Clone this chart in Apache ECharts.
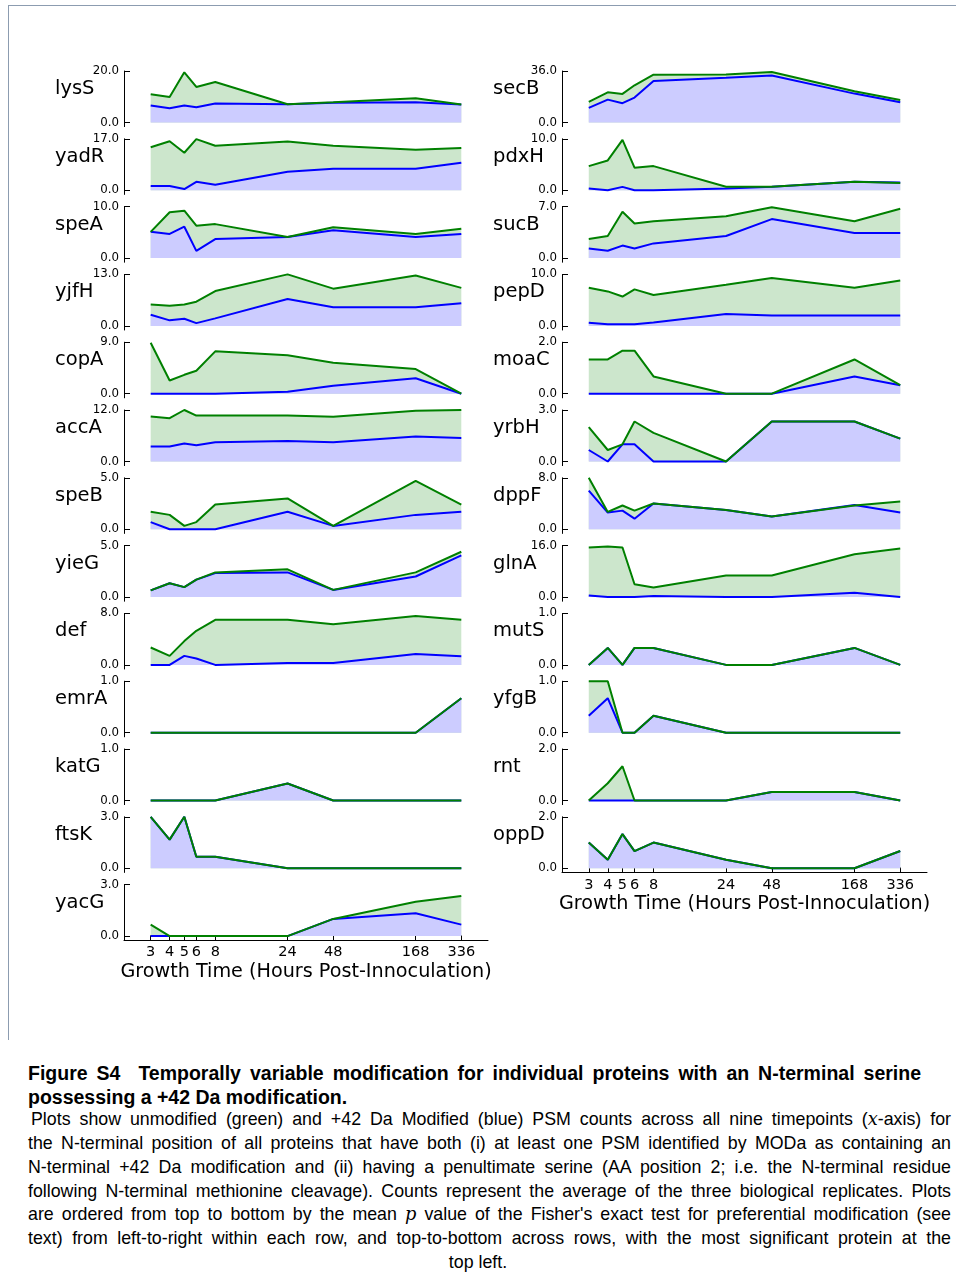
<!DOCTYPE html>
<html>
<head>
<meta charset="utf-8">
<script src="https://cdn.jsdelivr.net/npm/echarts@6/dist/echarts.min.js"></script>
<style>
  body { margin: 0; background: #fff; width: 956px; height: 1282px; position: relative; overflow: hidden; }
  #chart { position: absolute; left: 0; top: 0; width: 956px; height: 1040px; }
  .frame-h { position: absolute; left: 8px; top: 5px; width: 948px; height: 1px; background: #8c9cb0; }
  .frame-v { position: absolute; left: 8px; top: 5px; width: 1px; height: 1035px; background: #8c9cb0; }
  .cap { position: absolute; white-space: nowrap; font-family: 'Liberation Sans', Arial, sans-serif; color: #000; line-height: 24px; }
  .tt { font-weight: bold; font-size: 19.5px; left: 28px; }
  .bd { font-size: 17.8px; left: 28px; width: 923px; text-align: justify; text-align-last: justify; }
  .m { font-family: 'DejaVu Serif', 'Liberation Serif', serif; font-style: italic; }
</style>
</head>
<body>
<div class="frame-h"></div>
<div class="frame-v"></div>
<div id="chart"></div>

<div class="cap tt" style="top:1061px;width:893px;text-align:justify;text-align-last:justify;">Figure S4&nbsp;&nbsp;Temporally variable modification for individual proteins with an N-terminal serine</div>
<div class="cap tt" style="top:1085px;">possessing a +42 Da modification.</div>
<div class="cap bd" style="top:1107px;left:31px;width:920px;">Plots show unmodified (green) and +42 Da Modified (blue) PSM counts across all nine timepoints (<span class="m">x</span>-axis) for</div>
<div class="cap bd" style="top:1131px;">the N-terminal position of all proteins that have both (i) at least one PSM identified by MODa as containing an</div>
<div class="cap bd" style="top:1155px;">N-terminal +42 Da modification and (ii) having a penultimate serine (AA position 2; i.e. the N-terminal residue</div>
<div class="cap bd" style="top:1179px;">following N-terminal methionine cleavage). Counts represent the average of the three biological replicates. Plots</div>
<div class="cap bd" style="top:1202px;">are ordered from top to bottom by the mean <span class="m">p</span> value of the Fisher's exact test for preferential modification (see</div>
<div class="cap bd" style="top:1226px;">text) from left-to-right within each row, and top-to-bottom across rows, with the most significant protein at the</div>
<div class="cap" style="top:1250px;left:0;width:956px;text-align:center;font-size:17.8px;">top left.</div>

<script>
// ---------------- DATA ----------------
const hours = [3, 4, 5, 6, 8, 24, 48, 168, 336];
const xAxisTitle = 'Growth Time (Hours Post-Innoculation)';

const leftProteins  = ['lysS', 'yadR', 'speA', 'yjfH', 'copA', 'accA', 'speB', 'yieG', 'def', 'emrA', 'katG', 'ftsK', 'yacG'];
const leftYMax      = [20, 17, 10, 13, 9, 12, 5, 5, 8, 1, 1, 3, 3];
const rightProteins = ['secB', 'pdxH', 'sucB', 'pepD', 'moaC', 'yrbH', 'dppF', 'glnA', 'mutS', 'yfgB', 'rnt', 'oppD'];
const rightYMax     = [36, 10, 7, 10, 2, 3, 8, 16, 1, 1, 2, 2];

// unmodified (green) and +42 Da modified (blue) PSM counts
const lysS_unmod = [11.0, 9.9, 19.5, 13.8, 15.7, 7.1, 7.9, 9.4, 7.0];
const lysS_mod   = [6.6, 5.5, 6.6, 5.9, 7.4, 7.1, 7.7, 7.9, 7.0];
const yadR_unmod = [14.2, 16.2, 12.4, 16.9, 14.7, 16.1, 14.7, 13.4, 14.0];
const yadR_mod   = [1.4, 1.4, 0.4, 2.8, 1.8, 6.1, 7.1, 7.1, 9.1];
const speA_unmod = [5.1, 8.9, 9.2, 6.3, 6.6, 4.1, 6.0, 4.7, 5.7];
const speA_mod   = [5.1, 4.7, 6.1, 1.4, 3.7, 4.1, 5.4, 4.1, 4.7];
const yjfH_unmod = [5.4, 5.1, 5.4, 6.1, 8.8, 13.0, 9.4, 12.7, 9.6];
const yjfH_mod   = [2.8, 1.4, 1.8, 0.7, 1.9, 6.8, 4.7, 4.7, 5.7];
const copA_unmod = [8.9, 2.3, 3.3, 4.0, 7.4, 6.7, 5.4, 4.3, 0];
const copA_mod   = [0, 0, 0, 0, 0, 0.35, 1.4, 2.7, 0];
const accA_unmod = [10.5, 10.1, 12.0, 10.7, 10.7, 10.7, 10.4, 11.8, 12.0];
const accA_mod   = [3.5, 3.5, 4.2, 3.8, 4.5, 4.8, 4.5, 5.8, 5.5];
const speB_unmod = [1.7, 1.4, 0.33, 0.7, 2.4, 3.0, 0.33, 4.7, 2.4];
const speB_mod   = [0.7, 0, 0, 0, 0, 1.7, 0.33, 1.4, 1.7];
const yieG_unmod = [0.65, 1.35, 0.97, 1.7, 2.4, 2.7, 0.7, 2.4, 4.4];
const yieG_mod   = [0.65, 1.35, 0.97, 1.7, 2.33, 2.4, 0.7, 2.0, 4.05];
const def_unmod  = [2.7, 1.4, 3.7, 5.3, 7.0, 7.0, 6.3, 7.6, 7.0];
const def_mod    = [0, 0, 1.4, 1.0, 0, 0.3, 0.3, 1.7, 1.35];
const emrA_unmod = [0, 0, 0, 0, 0, 0, 0, 0, 0.67];
const emrA_mod   = [0, 0, 0, 0, 0, 0, 0, 0, 0.67];
const katG_unmod = [0, 0, 0, 0, 0, 0.33, 0, 0, 0];
const katG_mod   = [0, 0, 0, 0, 0, 0.33, 0, 0, 0];
const ftsK_unmod = [3.0, 1.67, 3.0, 0.67, 0.67, 0, 0, 0, 0];
const ftsK_mod   = [3.0, 1.67, 3.0, 0.67, 0.67, 0, 0, 0, 0];
const yacG_unmod = [0.67, 0, 0, 0, 0, 0, 1.0, 2.0, 2.33];
const yacG_mod   = [0, 0, 0, 0, 0, 0, 1.0, 1.33, 0.67];

const secB_unmod = [14.4, 21.1, 20.0, 26.0, 33.4, 33.6, 35.3, 21.8, 15.8];
const secB_mod   = [10.2, 16.0, 13.5, 17.4, 29.0, 31.3, 32.9, 20.2, 14.2];
const pdxH_unmod = [4.7, 5.8, 9.8, 4.4, 4.7, 0.7, 0.67, 1.67, 1.4];
const pdxH_mod   = [0.33, 0, 0.67, 0, 0, 0.33, 0.67, 1.67, 1.5];
const sucB_unmod = [2.6, 3.0, 6.3, 4.7, 5.0, 5.7, 6.9, 5.0, 6.7];
const sucB_mod   = [1.3, 1.0, 1.7, 1.3, 2.0, 3.0, 5.3, 3.4, 3.4];
const pepD_unmod = [7.4, 6.7, 5.7, 7.1, 6.0, 8.0, 9.3, 7.4, 8.8];
const pepD_mod   = [0.6, 0.33, 0.33, 0.33, 0.65, 2.3, 2.0, 2.0, 2.0];
const moaC_unmod = [1.33, 1.33, 1.67, 1.67, 0.67, 0, 0, 1.33, 0.33];
const moaC_mod   = [0, 0, 0, 0, 0, 0, 0, 0.67, 0.33];
const yrbH_unmod = [2.0, 0.67, 1.0, 2.33, 1.67, 0, 2.33, 2.33, 1.33];
const yrbH_mod   = [0.67, 0, 1.0, 1.0, 0, 0, 2.33, 2.33, 1.33];
const dppF_unmod = [8.0, 2.7, 3.7, 2.9, 4.0, 3.0, 2.0, 3.7, 4.3];
const dppF_mod   = [6.0, 2.6, 2.9, 1.65, 4.0, 3.0, 2.0, 3.76, 2.6];
const glnA_unmod = [15.4, 15.7, 15.4, 4.0, 3.0, 6.7, 6.7, 13.3, 15.1];
const glnA_mod   = [0.5, 0, 0, 0, 0.33, 0, 0, 1.33, 0];
const mutS_unmod = [0, 0.33, 0, 0.33, 0.33, 0, 0, 0.33, 0];
const mutS_mod   = [0, 0.33, 0, 0.33, 0.33, 0, 0, 0.33, 0];
const yfgB_unmod = [1.0, 1.0, 0, 0, 0.33, 0, 0, 0, 0];
const yfgB_mod   = [0.33, 0.67, 0, 0, 0.33, 0, 0, 0, 0];
const rnt_unmod  = [0, 0.67, 1.33, 0, 0, 0, 0.33, 0.33, 0];
const rnt_mod    = [0, 0, 0, 0, 0, 0, 0.33, 0.33, 0];
const oppD_unmod = [1.0, 0.33, 1.33, 0.67, 1.0, 0.33, 0, 0, 0.67];
const oppD_mod   = [1.0, 0.33, 1.33, 0.67, 1.0, 0.33, 0, 0, 0.67];

const unmodified = {
  lysS: lysS_unmod, yadR: yadR_unmod, speA: speA_unmod, yjfH: yjfH_unmod, copA: copA_unmod,
  accA: accA_unmod, speB: speB_unmod, yieG: yieG_unmod, def: def_unmod, emrA: emrA_unmod,
  katG: katG_unmod, ftsK: ftsK_unmod, yacG: yacG_unmod,
  secB: secB_unmod, pdxH: pdxH_unmod, sucB: sucB_unmod, pepD: pepD_unmod, moaC: moaC_unmod,
  yrbH: yrbH_unmod, dppF: dppF_unmod, glnA: glnA_unmod, mutS: mutS_unmod, yfgB: yfgB_unmod,
  rnt: rnt_unmod, oppD: oppD_unmod
};
const modified = {
  lysS: lysS_mod, yadR: yadR_mod, speA: speA_mod, yjfH: yjfH_mod, copA: copA_mod,
  accA: accA_mod, speB: speB_mod, yieG: yieG_mod, def: def_mod, emrA: emrA_mod,
  katG: katG_mod, ftsK: ftsK_mod, yacG: yacG_mod,
  secB: secB_mod, pdxH: pdxH_mod, sucB: sucB_mod, pepD: pepD_mod, moaC: moaC_mod,
  yrbH: yrbH_mod, dppF: dppF_mod, glnA: glnA_mod, mutS: mutS_mod, yfgB: yfgB_mod,
  rnt: rnt_mod, oppD: oppD_mod
};

// ---------------- LAYOUT ----------------
const FONT = "'DejaVu Sans', 'Liberation Sans', sans-serif";
const columns = [
  { names: leftProteins,  ymax: leftYMax,  left: 124, width: 364 },
  { names: rightProteins, ymax: rightYMax, left: 562, width: 365 }
];
const TOP0 = 71, STEP = 67.8, PLOT_H = 51.5, BELOW = 0.08;

const grid = [], xAxis = [], yAxis = [], series = [], title = [];
let k = 0;
columns.forEach(col => {
  col.names.forEach((name, i) => {
    const ymax = col.ymax[i];
    const top = TOP0 + i * STEP;
    const isBottom = i === col.names.length - 1;
    grid.push({ left: col.left, top: top, width: col.width, height: PLOT_H * (1 + BELOW) });
    xAxis.push({
      type: 'log', gridIndex: k, logBase: 10, min: 2, max: 504,
      show: isBottom,
      axisLine: { show: true, onZero: false, lineStyle: { color: '#000', width: 1 } },
      axisTick: { show: true, inside: true, length: 5, customValues: hours, lineStyle: { color: '#000' } },
      axisLabel: { customValues: hours, fontSize: 14.5, color: '#000', margin: 5, fontFamily: FONT },
      splitLine: { show: false },
      minorTick: { show: false }, minorSplitLine: { show: false },
      name: isBottom ? xAxisTitle : '',
      nameLocation: 'middle', nameGap: 22,
      nameTextStyle: { fontSize: 19.2, color: '#000', fontFamily: FONT }
    });
    yAxis.push({
      type: 'value', gridIndex: k, min: -BELOW * ymax, max: ymax,
      axisLine: { show: true, onZero: false, lineStyle: { color: '#000', width: 1 } },
      axisTick: { show: true, inside: true, length: 6, customValues: [0, ymax], lineStyle: { color: '#000' } },
      axisLabel: { customValues: [0, ymax], formatter: v => Number(v).toFixed(1),
                   fontSize: 11.8, color: '#000', margin: 5, fontFamily: FONT },
      splitLine: { show: false }
    });
    title.push({
      text: name, left: col.left - 69, top: top + 8, padding: 0,
      textStyle: { fontSize: 19.5, fontWeight: 'normal', color: '#000', fontFamily: FONT }
    });
    const u = unmodified[name], m = modified[name];
    const uData = hours.map((h, j) => [h, u[j]]);
    const mData = hours.map((h, j) => [h, m[j]]);
    series.push({
      type: 'line', xAxisIndex: k, yAxisIndex: k, data: uData, symbol: 'none', clip: false, silent: true,
      lineStyle: { width: 0, opacity: 0 }, areaStyle: { color: '#cce6cc', opacity: 1 }, z: 1
    });
    series.push({
      type: 'line', xAxisIndex: k, yAxisIndex: k, data: mData, symbol: 'none', clip: false, silent: true,
      lineStyle: { width: 2, color: '#0000ff' }, itemStyle: { color: '#0000ff' },
      areaStyle: { color: '#ccccff', opacity: 1 }, z: 2
    });
    series.push({
      type: 'line', xAxisIndex: k, yAxisIndex: k, data: uData, symbol: 'none', clip: false, silent: true,
      lineStyle: { width: 2, color: '#008000' }, itemStyle: { color: '#008000' }, z: 3
    });
    k++;
  });
});

const chart = echarts.init(document.getElementById('chart'), null, { renderer: 'canvas' });
chart.setOption({
  backgroundColor: 'transparent',
  animation: false,
  title, grid, xAxis, yAxis, series
});
</script>
</body>
</html>
